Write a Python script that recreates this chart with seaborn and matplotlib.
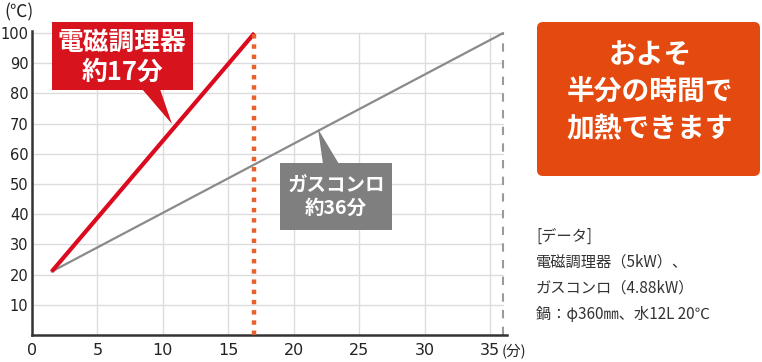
import matplotlib
matplotlib.use("Agg")
import matplotlib.pyplot as plt
import matplotlib.transforms as mtransforms
from matplotlib.patches import Rectangle, Polygon, FancyBboxPatch
import seaborn as sns
import pandas as pd

# ---- data ----
induction_time = [1.5, 17]
induction_temp = [21, 100]
gas_time = [1.5, 36]
gas_temp = [21, 100]
x_ticks = [0, 5, 10, 15, 20, 25, 30, 35]
y_ticks = [10, 20, 30, 40, 50, 60, 70, 80, 90, 100]
induction_label = "電磁調理器\n約17分"
gas_label = "ガスコンロ\n約36分"
headline = "およそ\n半分の時間で\n加熱できます"
note_lines = ["[データ]", "電磁調理器（5kW）、", "ガスコンロ（4.88kW）", "鍋：φ360㎜、水12L 20℃"]

sns.set_theme(style="white")
plt.rcParams['font.family'] = ['Noto Sans CJK JP', 'DejaVu Sans']

W, H = 762, 362
fig = plt.figure(figsize=(W / 100, H / 100), dpi=100)
ax = fig.add_axes([32 / W, 1 - 335 / H, (507 - 32) / W, (335 - 31) / H])

df = pd.concat([
    pd.DataFrame({"time": induction_time, "temp": induction_temp, "kind": "induction"}),
    pd.DataFrame({"time": gas_time, "temp": gas_temp, "kind": "gas"}),
])

ax.set_xlim(0, 36.3)
ax.set_ylim(0, 100.7)

# grid
for xv in x_ticks[1:]:
    ax.plot([xv, xv], [0, 100], color="#dcdcdc", lw=1.0, zorder=1)
for yv in y_ticks:
    ax.plot([0, 36], [yv, yv], color="#dcdcdc", lw=1.0, zorder=1)

# vertical markers
ax.plot([36, 36], [0, 100], color="#9a9a9a", lw=1.5, ls=(0, (4, 4)), zorder=2)

sns.lineplot(data=df[df.kind == "gas"], x="time", y="temp", color="#8a8a8a", lw=1.6, ax=ax, zorder=3)
sns.lineplot(data=df[df.kind == "induction"], x="time", y="temp", color="#dc0a1e", lw=3.0, ax=ax, zorder=4,
             solid_capstyle="butt")
ax.plot([induction_time[-1]] * 2, [0, 100], color="#e8612c", lw=3.2, ls=(0, (1.0, 1.3)), zorder=5,
        solid_capstyle="butt", dash_capstyle="butt")

for s in ["top", "right"]:
    ax.spines[s].set_visible(False)
for s in ["left", "bottom"]:
    ax.spines[s].set_color("#333333")
    ax.spines[s].set_linewidth(1.8)

tick_font = dict(family=['Liberation Sans Narrow', 'DejaVu Sans'])
ax.set_xticks(x_ticks)
ax.set_yticks(y_ticks)
ax.set_xticklabels([str(v) for v in x_ticks], fontsize=11.5, color="#222222", **tick_font)
ax.set_yticklabels([str(v) for v in y_ticks], fontsize=10.5, color="#222222", **tick_font)
ax.tick_params(axis="x", direction="in", length=10, width=1.8, color="#333333", pad=6)
ax.tick_params(axis="y", direction="in", length=7, width=1.8, color="#333333", pad=2.5)
ax.set_xlabel("")
ax.set_ylabel("")

# pixel transform (top-left origin)
px = mtransforms.Affine2D().scale(1 / W, -1 / H).translate(0, 1) + fig.transFigure

fig.text(4, 12, "(℃)", transform=px, fontsize=12.5, color="#222222", va="center", ha="left",
         family=['Liberation Sans Narrow', 'Noto Sans CJK JP'])
fig.text(502, 352, "(分)", transform=px, fontsize=10.5, color="#222222", va="center", ha="left")

# red callout
fig.patches.append(Rectangle((52, 22), 141, 68, transform=px, facecolor="#d7141e", edgecolor="none", zorder=6))
fig.patches.append(Polygon([(142, 89), (160, 89), (172, 124)], closed=True, transform=px,
                           facecolor="#d7141e", edgecolor="none", zorder=6))
fig.text(122, 57, induction_label, transform=px, fontsize=18.5, fontweight="bold", color="white",
         ha="center", va="center", linespacing=1.15, zorder=7)

# gray callout
fig.patches.append(Rectangle((280, 163), 112, 67, transform=px, facecolor="#7f7f7f", edgecolor="none", zorder=6))
fig.patches.append(Polygon([(323, 164), (339, 164), (318, 129)], closed=True, transform=px,
                           facecolor="#7f7f7f", edgecolor="none", zorder=6))
fig.text(336, 197, gas_label, transform=px, fontsize=14, fontweight="bold", color="white",
         ha="center", va="center", linespacing=1.3, zorder=7)

# orange headline box
fig.patches.append(FancyBboxPatch((537, 22), 223, 154, boxstyle="round,pad=0,rounding_size=6",
                                  transform=px, facecolor="#e4490f", edgecolor="none", zorder=6))
fig.text(650, 92, headline, transform=px, fontsize=20, fontweight="bold", color="white",
         ha="center", va="center", linespacing=1.4, zorder=7)

# note
for i, line in enumerate(note_lines):
    fig.text(536, 236 + i * 26, line, transform=px, fontsize=11, color="#333333", ha="left", va="center")

fig.savefig("out.png", dpi=100)
